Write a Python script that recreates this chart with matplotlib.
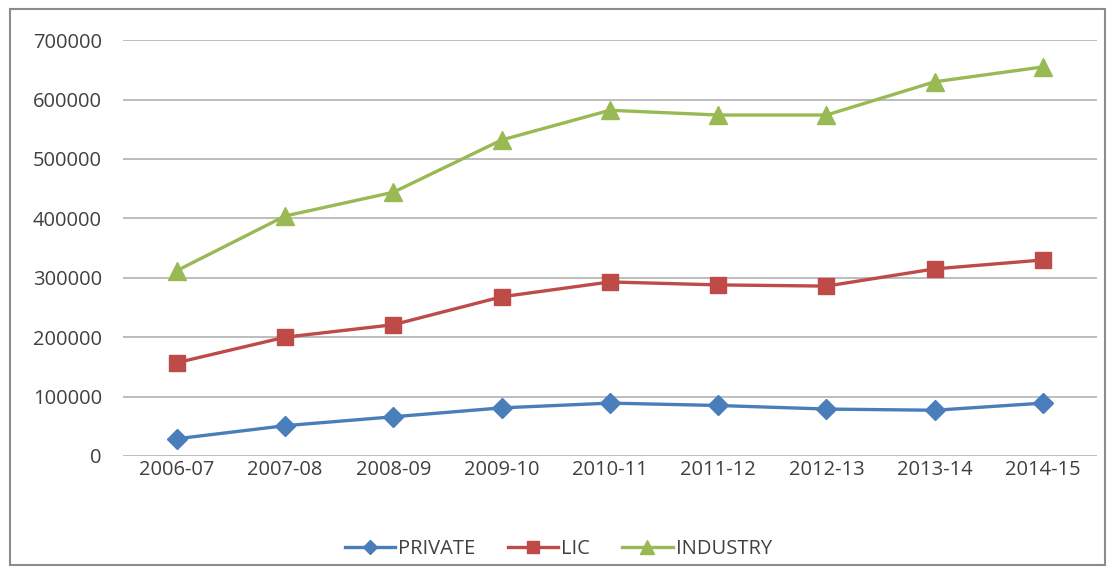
import matplotlib.pyplot as plt
from matplotlib.patches import Rectangle

years = ['2006-07', '2007-08', '2008-09', '2009-10', '2010-11',
         '2011-12', '2012-13', '2013-14', '2014-15']
private = [29000, 51000, 66000, 81000, 89000, 85000, 79000, 77000, 89000]
lic = [157000, 200000, 221000, 268000, 293000, 288000, 286000, 315000, 330000]
industry = [312000, 404000, 444000, 532000, 582000, 574000, 574000, 630000, 655000]

plt.rcParams['font.family'] = ['Open Sans', 'DejaVu Sans']

fig = plt.figure(figsize=(11.15, 5.74), dpi=100)
ax = fig.add_axes([0.110, 0.2056, 0.874, 0.7244])

x = range(len(years))
ax.plot(x, private, color='#4A7EBB', linewidth=2.4, marker='D', markersize=10, label='PRIVATE')
ax.plot(x, lic, color='#BE4B48', linewidth=2.4, marker='s', markersize=12, label='LIC')
ax.plot(x, industry, color='#98B954', linewidth=2.4, marker='^', markersize=13, label='INDUSTRY')

ax.set_xlim(-0.5, len(years) - 0.5)
ax.set_ylim(0, 700000)
ax.set_yticks(range(0, 700001, 100000))
ax.set_yticklabels([str(v) for v in range(0, 700001, 100000)])
ax.set_xticks(list(x))
ax.set_xticklabels(years)
ax.tick_params(length=0, labelsize=14.5, labelcolor='#404040')
ax.tick_params(axis='x', pad=3)
ax.tick_params(axis='y', pad=15)
ax.grid(axis='y', color='#b8b8b8', linewidth=1.3)
ax.set_axisbelow(True)
for s in ax.spines.values():
    s.set_visible(False)

leg = ax.legend(loc='upper center', bbox_to_anchor=(0.447, -0.155), ncol=3, frameon=False,
                fontsize=14.5, handlelength=2.5, columnspacing=1.6, handletextpad=0.15,
                markerscale=0.75)
for t in leg.get_texts():
    t.set_color('#404040')

fig.patches.append(Rectangle((0.009, 0.016), 0.982, 0.968, transform=fig.transFigure,
                             fill=False, edgecolor='#8c8c8c', linewidth=1.5))

fig.savefig('out.png', dpi=100)
